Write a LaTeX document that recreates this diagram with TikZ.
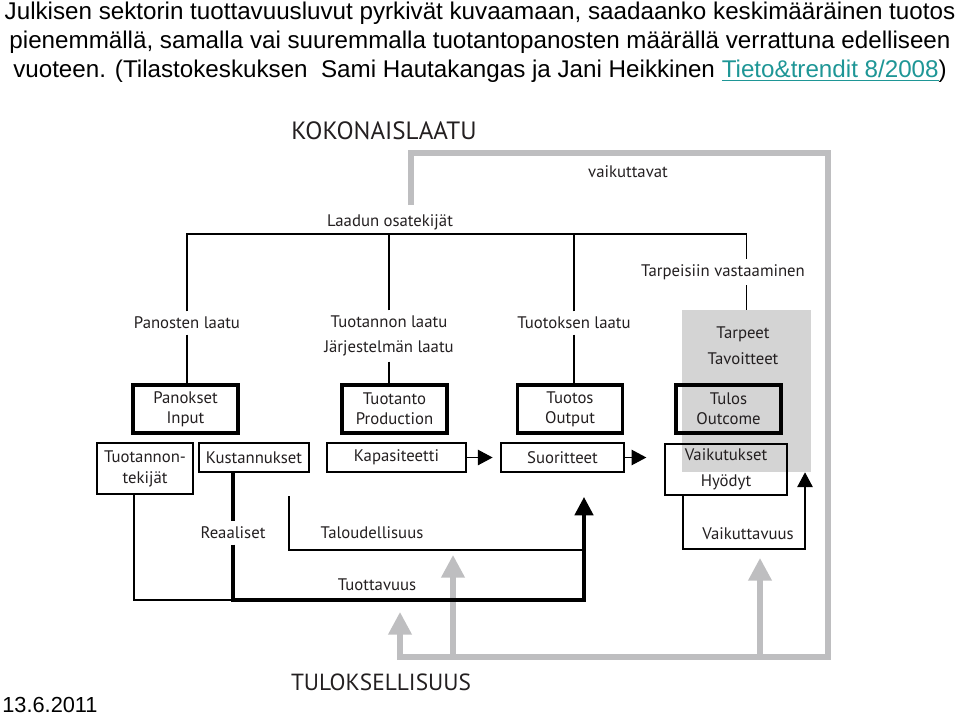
\documentclass[tikz,border=0pt]{standalone}
\usepackage{fontspec}
\setmainfont{Liberation Sans}
\newfontfamily\diafont{PT Sans}
\usetikzlibrary{arrows.meta,positioning}
\definecolor{frameg}{RGB}{190,190,192}
\definecolor{boxg}{RGB}{212,212,212}
\definecolor{linkc}{RGB}{30,150,150}
\definecolor{txtc}{RGB}{35,31,32}

\begin{document}
\begin{tikzpicture}[x=0.025cm,y=-0.025cm,
  font=\diafont\fontsize{11.9}{13}\selectfont,text=txtc,
  lbl/.style={inner sep=0pt,outer sep=4pt,align=center},
  big/.style={lbl,font=\diafont\fontsize{17.8}{18}\selectfont},
  thinbox/.style={draw,line width=0.9pt,inner sep=0pt,align=center,minimum height=0.725cm},
  thickbox/.style={draw,line width=2.2pt,inner sep=0pt,align=center,minimum width=2.625cm,minimum height=1.2cm,
    font=\diafont\fontsize{11.9}{14.2}\selectfont},
  tline/.style={line width=0.8pt},
  fatline/.style={line width=2.6pt},
  gline/.style={frameg,line width=3.6pt},
  garrow/.style={gline,-{Triangle[length=16pt,width=16pt]}},
  barrow/.style={tline,-{Triangle[length=10.5pt,width=11pt]}}]
\useasboundingbox (0,0) rectangle (960,717);

% header text
\node[font=\rmfamily\fontsize{17.2}{20.6}\selectfont,text=black,align=center,anchor=north,inner sep=0pt] (head) at (480,2)
  {Julkisen sektorin tuottavuusluvut pyrkivät kuvaamaan, saadaanko keskimääräinen tuotos\\
   pienemmällä, samalla vai suuremmalla tuotantopanosten määrällä verrattuna edelliseen\\
   vuoteen. (Tilastokeskuksen\ \ Sami Hautakangas ja Jani Heikkinen \textcolor{linkc}{\underline{Tieto\&trendit 8/2008}})};
\node[font=\rmfamily\fontsize{15.5}{18}\selectfont,text=black,anchor=south west,inner sep=0pt] (date) at (2,713) {13.6.2011};

% grey outcome area
\node[fill=boxg,minimum width=3.225cm,minimum height=4.05cm,inner sep=0pt] (gbox) at (746.5,391) {};
\node[lbl,font=\diafont\fontsize{11.9}{18.4}\selectfont] (tarp) at (743,346) {Tarpeet\\Tavoitteet};

% labels
\node[big] (kok) at (384,131) {KOKONAISLAATU};
\node[big,font=\diafont\fontsize{16.6}{18}\selectfont] (tls) at (381,682) {TULOKSELLISUUS};
\node[lbl] (vaik) at (628,172) {vaikuttavat};
\node[lbl] (osat) at (390,222) {Laadun osatekijät};
\node[lbl] (tv) at (723,272) {Tarpeisiin vastaaminen};
\node[lbl] (pl) at (187,323) {Panosten laatu};
\node[lbl,font=\diafont\fontsize{11.9}{17.7}\selectfont] (tl) at (389,336) {Tuotannon laatu\\Järjestelmän laatu};
\node[lbl] (tol) at (574,323) {Tuotoksen laatu};

% main chain
\node[thickbox] (pan) at (185.5,409) {Panokset\\Input};
\node[thickbox] (prd) at (394.5,409) {Tuotanto\\Production};
\node[thickbox] (out) at (570,409) {Tuotos\\Output};
\node[thickbox] (tul) at (728.5,409) {Tulos\\Outcome};

\node[thinbox,minimum width=2.4cm,minimum height=1.275cm,font=\diafont\fontsize{11.9}{14.9}\selectfont] (tek) at (145,468.5) {Tuotannon-\\tekijät};
\node[thinbox,minimum width=2.75cm] (kus) at (254,457.5) {Kustannukset};
\node[thinbox,minimum width=3.475cm] (kap) at (396.5,457.5) {Kapasiteetti};
\node[thinbox,minimum width=3.075cm] (suo) at (562.5,457.5) {Suoritteet};
\node[thinbox,minimum width=3.05cm,minimum height=1.275cm,font=\diafont\fontsize{11.9}{18.4}\selectfont] (vai) at (726,469.5) {Vaikutukset\\Hyödyt};

\node[lbl] (rea) at (233,533) {Reaaliset};
\node[lbl] (tal) at (372,533) {Taloudellisuus};
\node[lbl] (tuo) at (377,585) {Tuottavuus};
\node[lbl] (vku) at (748,534) {Vaikuttavuus};

% levels and free ends
\coordinate (tree) at (0,234);
\coordinate (gs) at (411,205);
\coordinate (gtr) at (828,153);
\coordinate (gbl) at (400,657);
\coordinate (tA) at (400,612);
\coordinate (tB) at (453,555);
\coordinate (tC) at (760,558);
\coordinate (tp) at (584,497);
\coordinate (prodc) at (0,600);
\coordinate (talL) at (289,496);
\coordinate (talc) at (0,550);
\coordinate (vk) at (805,549);

% grey frame and arrows
\draw[garrow] (gs) |- (gtr) |- (gbl) -- (tA);
\foreach \t in {tB,tC} \draw[garrow] (\t |- gbl) -- (\t);

% quality tree
\draw[tline] (pl.north) |- (gbox.north |- tree) -- (gbox.north |- tv.north);
\draw[tline] (tl.north) -- (tl.north |- tree);
\draw[tline] (tol.north) -- (tol.north |- tree);
\draw[tline] (tv.south -| gbox.north) -- (gbox.north);
\foreach \a/\b in {pl/pan,tl/prd,tol/out} \draw[tline] (\a.south) -- (\b.north -| \a.south);

% flows
\draw[barrow,shorten >=5.5pt] (kap) -- (suo);
\draw[barrow] (suo.east) -- ([xshift=-0.45cm]suo.east -| vai.west);

% productivity, economy, effectiveness
\draw[fatline] (kus.south -| rea) -- (rea.north);
\draw[fatline,-{Triangle[length=13pt,width=13pt]}] (rea.south) |- (tp |- prodc) -- (tp);
\draw[tline] ([xshift=-0.275cm]tek.south) |- (rea |- prodc);
\draw[tline] (talL) |- (tp |- talc);
\draw[barrow] ([xshift=-1.075cm]vai.south) |- (vk) -- (gbox.south -| vk);
\end{tikzpicture}
\end{document}
